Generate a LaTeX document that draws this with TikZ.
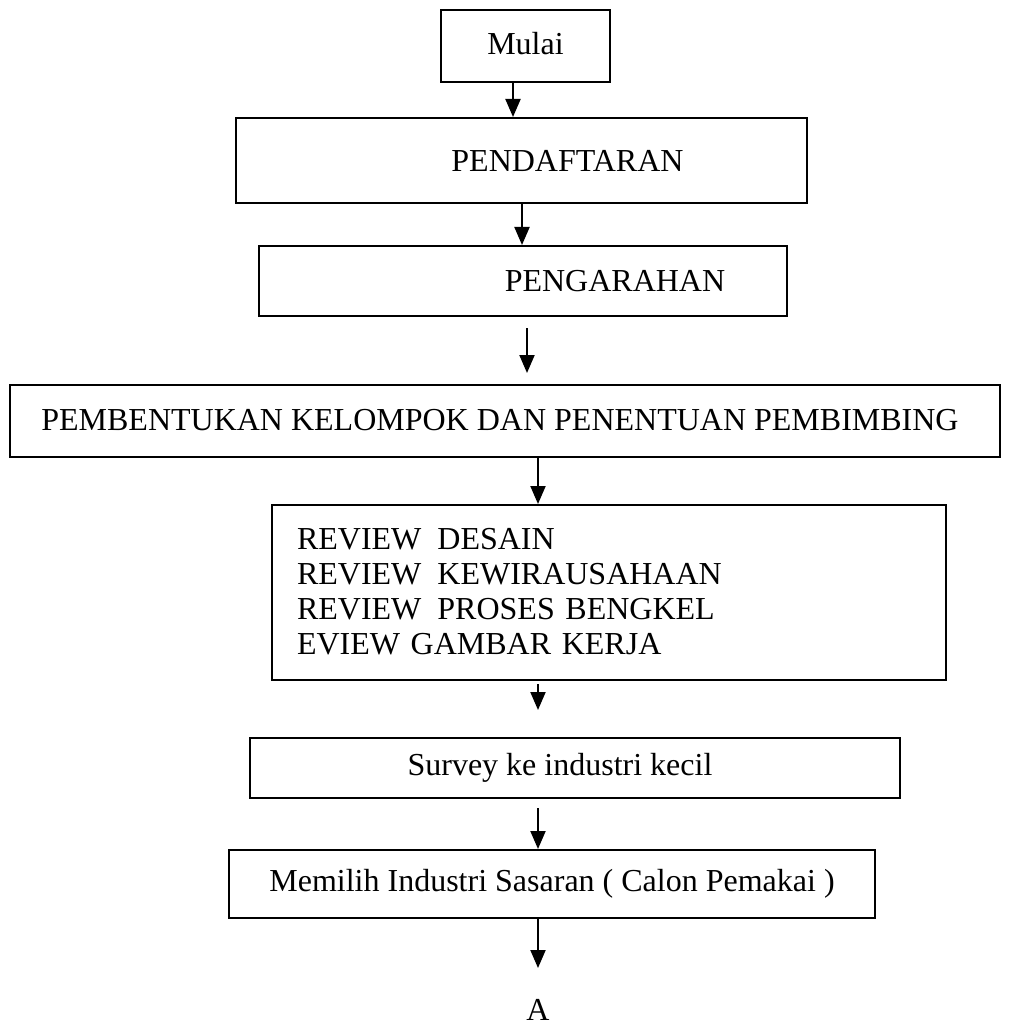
\documentclass[tikz,border=0pt]{standalone}
\usepackage{fontspec}
\setmainfont{Liberation Serif}
\usetikzlibrary{arrows.meta}
\begin{document}
\begin{tikzpicture}[x=1pt,y=-1pt,
  procbox/.style={draw, line width=2pt, rectangle, inner sep=0pt,
    font=\fontsize{32}{35}\selectfont},
  arr/.style={line width=2pt, -{Triangle[width=15pt,length=18pt]}}]
\useasboundingbox (0,0) rectangle (1008,1032);

% process steps
\node[procbox, minimum width=169pt, minimum height=72pt] (mulai) at (525.5,46) {\raisebox{5pt}{Mulai}};
\node[procbox, minimum width=571pt, minimum height=85pt] (daftar) at (521.5,160.5) {\hspace*{92pt}\raisebox{-4pt}{PENDAFTARAN}};
\node[procbox, minimum width=528pt, minimum height=70pt] (arah) at (523,281) {\hspace*{184pt}PENGARAHAN};
\node[procbox, minimum width=990pt, minimum height=72pt] (kelompok) at (505,421) {\raisebox{2pt}{PEMBENTUKAN KELOMPOK DAN PENENTUAN PEMBIMBING}\hspace*{10pt}};
\node[procbox, minimum width=674pt, minimum height=175pt, text width=624pt, align=left] (review) at (609,592.5)
  {\raisebox{3pt}{REVIEW\hspace{0.5em}DESAIN}\\\raisebox{3pt}{REVIEW\hspace{0.5em}KEWIRAUSAHAAN}\\\raisebox{3pt}{REVIEW\hspace{0.5em}PROSES BENGKEL}\\\raisebox{3pt}{EVIEW GAMBAR KERJA}};
\node[procbox, minimum width=650pt, minimum height=60pt] (survey) at (575,768) {Survey ke industri kecil\hspace*{30pt}};
\node[procbox, minimum width=646pt, minimum height=68pt] (pilih) at (552,884) {Memilih Industri Sasaran ( Calon Pemakai )};
\node[font=\fontsize{32}{35}\selectfont, inner sep=0pt] (konektor) at (538,1010) {A};

% arrow columns and free end points
\coordinate (x1) at (513,0);
\coordinate (x2) at (522,0);
\coordinate (x3) at (527,0);
\coordinate (x4) at (538,0);
\coordinate (s3) at (527,328);
\coordinate (e3) at (527,373);
\coordinate (s5) at (538,684);
\coordinate (e5) at (538,710);
\coordinate (s6) at (538,808);
\coordinate (e7) at (538,968);

% connectors
\draw[arr] (mulai.south -| x1) -- (daftar.north -| x1);
\draw[arr] (daftar.south -| x2) -- (arah.north -| x2);
\draw[arr] (s3) -- (e3);
\draw[arr] (kelompok.south -| x4) -- (review.north -| x4);
\draw[arr] (s5) -- (e5);
\draw[arr] (s6) -- (pilih.north -| x4);
\draw[arr] (pilih.south -| x4) -- (e7);
\end{tikzpicture}
\end{document}
